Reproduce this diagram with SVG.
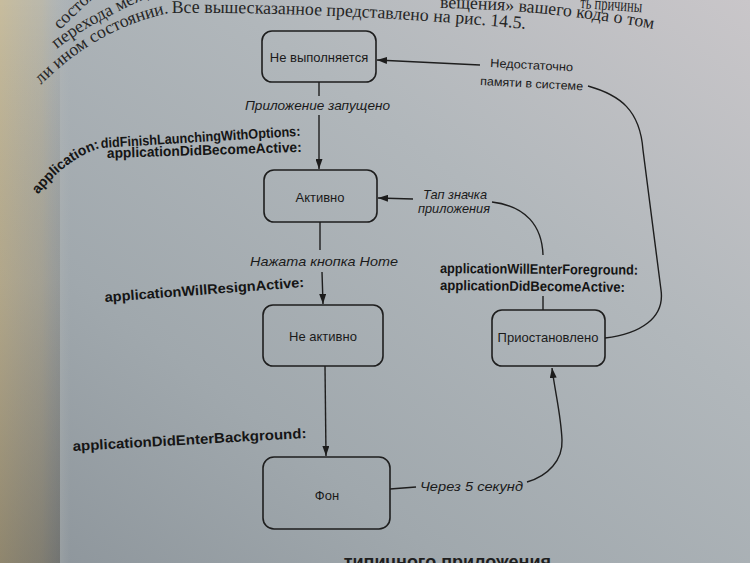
<svg xmlns="http://www.w3.org/2000/svg" width="750" height="563" viewBox="0 0 750 563">
  <defs>
    <linearGradient id="paper" x1="1" y1="0" x2="0" y2="1">
      <stop offset="0" stop-color="#c9c6c9"/>
      <stop offset="0.35" stop-color="#b1b7bb"/>
      <stop offset="0.7" stop-color="#a0a8ad"/>
      <stop offset="1" stop-color="#8c949a"/>
    </linearGradient>
    <linearGradient id="edge" x1="0" y1="0" x2="1" y2="0">
      <stop offset="0" stop-color="#c9bd9c" stop-opacity="0.95"/>
      <stop offset="0.6" stop-color="#c4bca4" stop-opacity="0.6"/>
      <stop offset="1" stop-color="#b8bcbc" stop-opacity="0"/>
    </linearGradient>
    <linearGradient id="edgeV" x1="0" y1="0" x2="0" y2="1">
      <stop offset="0" stop-color="#000" stop-opacity="0"/>
      <stop offset="0.5" stop-color="#3a3020" stop-opacity="0.15"/>
      <stop offset="1" stop-color="#2a2418" stop-opacity="0.35"/>
    </linearGradient>
    <marker id="ah" viewBox="0 0 10 7" refX="10" refY="3.5" markerWidth="10" markerHeight="7" markerUnits="userSpaceOnUse" orient="auto">
      <path d="M0,0 L10,3.5 L0,7 z" fill="#1c1c1c"/>
    </marker>
    <path id="p-left1" d="M40,86 C70,55 115,24 169,13"/>
    <path id="p-main" d="M172,13 C280,12 420,18 545,31"/>
    <path id="p-left2" d="M57,49 C80,30 115,12 160,-8"/>
    <path id="p-left3" d="M60,30 C70,20 80,10 100,-8"/>
    <path id="p-right1" d="M440,8 C500,9 570,14 648,28"/>
    <path id="p-app" d="M30,205 C48,180 70,158 100,148"/>
  </defs>
  <style>
    .box { fill: none; stroke: #1e1e1e; stroke-width: 1.6; }
    .node { font-family: "Liberation Sans", Arial, sans-serif; font-size: 13px; fill: #1a1a1a; text-anchor: middle; }
    .lbl { font-family: "Liberation Sans", Arial, sans-serif; font-size: 13px; font-style: italic; fill: #1a1a1a; }
    .lblr { font-family: "Liberation Sans", Arial, sans-serif; font-size: 12px; fill: #1a1a1a; }
    .api { font-family: "Liberation Sans", Arial, sans-serif; font-size: 14px; font-weight: bold; fill: #151515; }
    .page { font-family: "Liberation Serif", "Times New Roman", serif; font-size: 17.8px; fill: #262626; }
    .head { font-family: "Liberation Sans", Arial, sans-serif; font-size: 18px; font-weight: bold; fill: #1e1e1e; }
    .edge { fill: none; stroke: #1e1e1e; stroke-width: 1.4; }
  </style>

  <!-- paper background -->
  <rect x="0" y="0" width="750" height="563" fill="url(#paper)"/>
  <rect x="0" y="0" width="70" height="563" fill="url(#edge)"/>
  <rect x="0" y="0" width="60" height="563" fill="url(#edgeV)"/>

  <!-- page text -->
  <g id="page-text">
    <text class="page" font-size="12.5" text-anchor="end"><textPath href="#p-left1" startOffset="100%">ли ином состоянии.</textPath></text>
    <text class="page"><textPath href="#p-main">Все вышесказанное представлено на рис. 14.5.</textPath></text>
    <text class="page" font-size="11.5"><textPath href="#p-left2">перехода между со</textPath></text>
    <text class="page" font-size="10"><textPath href="#p-left3">состояни</textPath></text>
    <text class="page" font-size="15.5"><textPath href="#p-right1">вещения» вашего кода о том</textPath></text>
    <text class="page" x="580" y="8" font-size="15" transform="rotate(4 580 8)" textLength="62" lengthAdjust="spacingAndGlyphs">ть причины</text>
    <text class="head" x="551" y="568" text-anchor="end">типичного приложения</text>
  </g>

  <!-- connectors -->
  <g id="connectors">
    <path class="edge" d="M319,82 L319,96"/>
    <path class="edge" d="M319,115 L319,169" marker-end="url(#ah)"/>
    <path class="edge" d="M320,222 L320,250"/>
    <path class="edge" d="M322,272 L323,304" marker-end="url(#ah)"/>
    <path class="edge" d="M325,366 L326,456" marker-end="url(#ah)"/>
    <path class="edge" d="M390,489 L416,487"/>
    <path class="edge" d="M527,482 C548,476 563,460 562,440 C561,415 555,392 552,368" marker-end="url(#ah)"/>
    <path class="edge" d="M543,296 L543,310"/>
    <path class="edge" d="M543,255 C542,226 526,206 492,202"/>
    <path class="edge" d="M413,199 L378,198" marker-end="url(#ah)"/>
    <path class="edge" d="M605,338 C640,334 665,318 661,290 L643,150 C640,110 620,95 588,86"/>
    <path class="edge" d="M480,65 L377,60" marker-end="url(#ah)"/>
  </g>

  <!-- connector labels -->
  <g id="labels">
    <text class="lbl" x="245" y="110" textLength="145" lengthAdjust="spacingAndGlyphs">Приложение запущено</text>
    <text class="api" font-size="12" text-anchor="end"><textPath href="#p-app" startOffset="100%">application:</textPath></text>
    <text class="api" x="101" y="148" transform="rotate(-3.5 101 148)" textLength="200" lengthAdjust="spacingAndGlyphs">didFinishLaunchingWithOptions:</text>
    <text class="api" x="107" y="158" transform="rotate(-1.8 107 158)" textLength="195" lengthAdjust="spacingAndGlyphs">applicationDidBecomeActive:</text>
    <text class="lbl" x="250" y="266" textLength="148" lengthAdjust="spacingAndGlyphs">Нажата кнопка Home</text>
    <text class="api" x="105" y="302" transform="rotate(-4.3 105 302)" textLength="200" lengthAdjust="spacingAndGlyphs">applicationWillResignActive:</text>
    <text class="api" x="73" y="451" transform="rotate(-3.2 73 451)" textLength="234" lengthAdjust="spacingAndGlyphs">applicationDidEnterBackground:</text>
    <text class="lbl" x="420" y="491" textLength="103" lengthAdjust="spacingAndGlyphs">Через 5 секунд</text>
    <text class="api" x="440" y="273" transform="rotate(0.5 440 273)" textLength="198" lengthAdjust="spacingAndGlyphs">applicationWillEnterForeground:</text>
    <text class="api" x="440" y="290" transform="rotate(0.6 440 290)" textLength="185" lengthAdjust="spacingAndGlyphs">applicationDidBecomeActive:</text>
    <text class="lbl" x="423" y="199" font-size="12" textLength="64" lengthAdjust="spacingAndGlyphs">Тап значка</text>
    <text class="lbl" x="418" y="213" font-size="12" textLength="72" lengthAdjust="spacingAndGlyphs">приложения</text>
    <text class="lblr" x="490" y="67" transform="rotate(3 490 67)" textLength="83" lengthAdjust="spacingAndGlyphs">Недостаточно</text>
    <text class="lblr" x="480" y="85" transform="rotate(3 480 85)" textLength="103" lengthAdjust="spacingAndGlyphs">памяти в системе</text>
  </g>

  <!-- nodes -->
  <g id="node-not-running">
    <rect class="box" x="262" y="31" width="114" height="51" rx="10"/>
    <text class="node" x="319" y="62">Не выполняется</text>
  </g>
  <g id="node-active">
    <rect class="box" x="264" y="170" width="113" height="52" rx="10"/>
    <text class="node" x="320" y="202">Активно</text>
  </g>
  <g id="node-inactive">
    <rect class="box" x="263" y="305" width="120" height="61" rx="10"/>
    <text class="node" x="323" y="341">Не активно</text>
  </g>
  <g id="node-background">
    <rect class="box" x="263" y="457" width="127" height="72" rx="11"/>
    <text class="node" x="327" y="500">Фон</text>
  </g>
  <g id="node-suspended">
    <rect class="box" x="492" y="310" width="113" height="56" rx="10"/>
    <text class="node" x="548" y="342">Приостановлено</text>
  </g>
</svg>
